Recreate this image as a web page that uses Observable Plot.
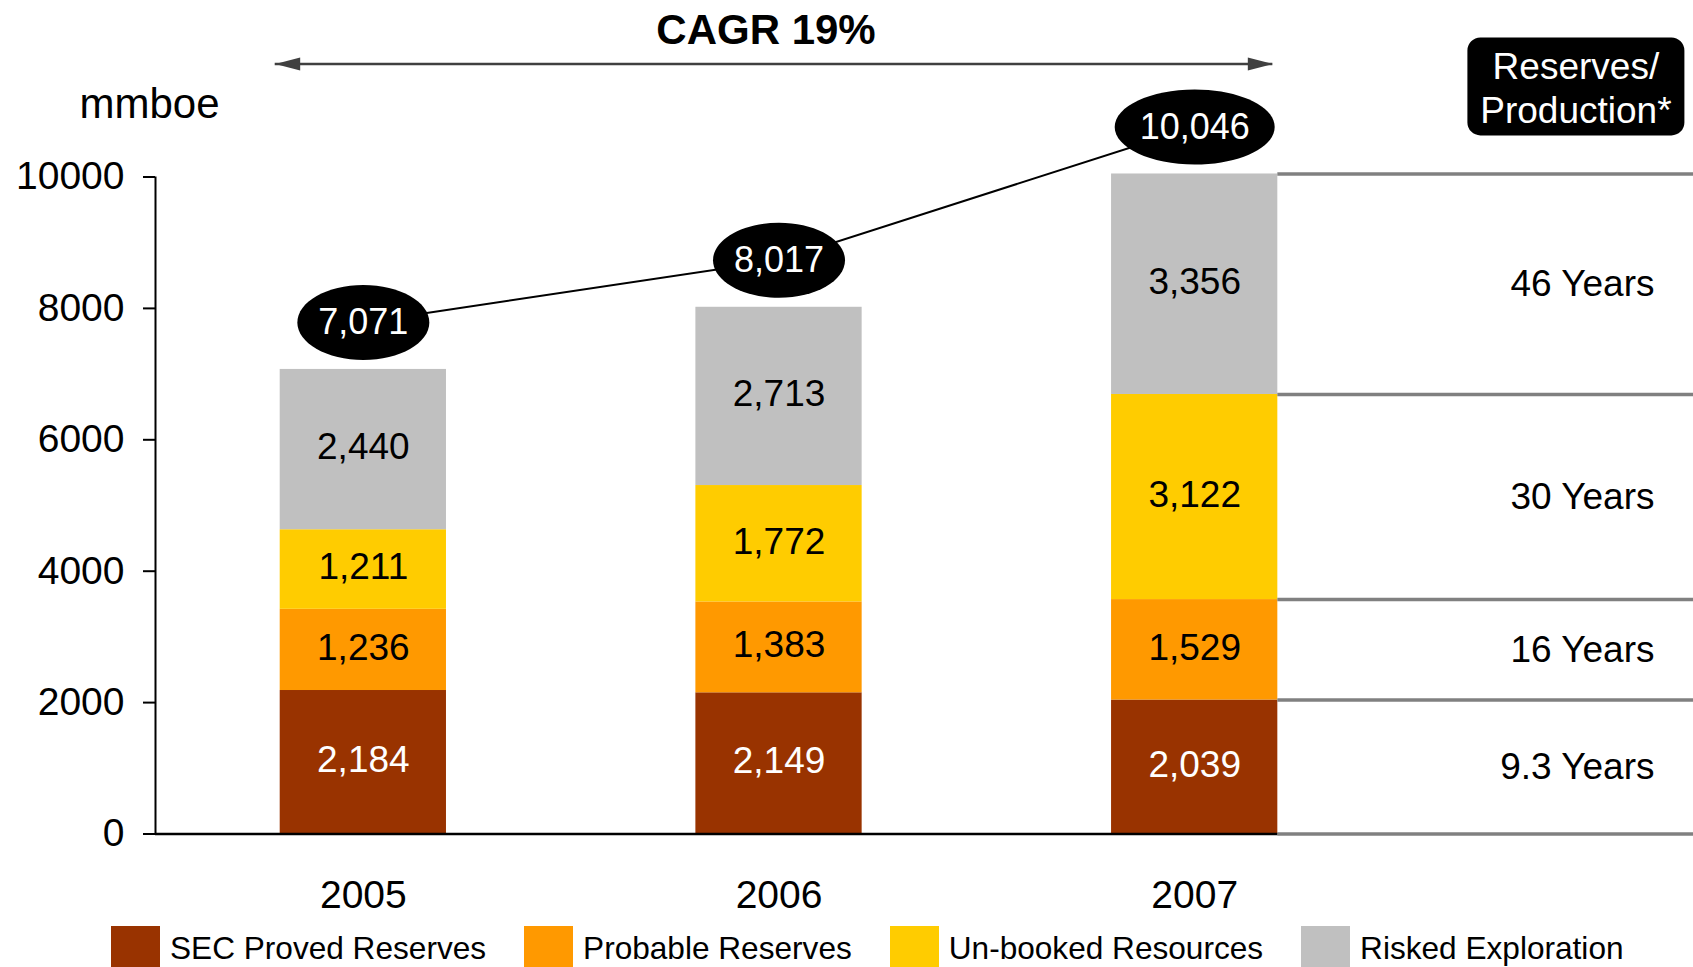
<!DOCTYPE html>
<html><head><meta charset="utf-8">
<script src="https://cdn.jsdelivr.net/npm/d3@7"></script>
<script src="https://cdn.jsdelivr.net/npm/@observablehq/plot@0.6"></script>
<style>
html,body{margin:0;padding:0;background:#fff;}
#wrap{position:relative;width:1693px;height:967px;overflow:hidden;font-family:"Liberation Sans",Arial,sans-serif;}
#wrap svg{display:block;}
#legend{position:absolute;left:111px;top:926px;display:flex;}
.item{display:flex;align-items:flex-start;margin-right:38px;}
.sw{width:49px;height:41px;}
.lab{font-size:31.6px;line-height:32px;margin-left:10px;margin-top:6px;white-space:nowrap;color:#000;}
</style></head><body><div id="wrap"></div>
<script>
// ---- data ----
const years = [2005, 2006, 2007];
const series = ["SEC Proved Reserves", "Probable Reserves", "Un-booked Resources", "Risked Exploration"];
const secProved = [2184, 2149, 2039];
const probable = [1236, 1383, 1529];
const unbooked = [1211, 1772, 3122];
const risked = [2440, 2713, 3356];
const totals = [7071, 8017, 10046];
const reservesToProduction = ["9.3 Years", "16 Years", "30 Years", "46 Years"];
const yTicks = [0, 2000, 4000, 6000, 8000, 10000];
const colors = ["#993300", "#FF9900", "#FFCC00", "#C0C0C0"];
const cagrLabel = "CAGR 19%";
const unitLabel = "mmboe";
const rpHeader = "Reserves/\nProduction*";

// ---- derived tables ----
const fmt = d3.format(",");
const half = 0.2; // half bar width in years
const xDomain = [2004.5, 2008.2];
const values = [secProved, probable, unbooked, risked];
const rows = [];
years.forEach((year, i) => {
  let base = 0;
  series.forEach((s, j) => {
    const v = values[j][i];
    rows.push({year, series: s, value: v, y1: base, y2: base + v});
    base += v;
  });
});
const lastYear = years[years.length - 1];
const rp = rows.filter(d => d.year === lastYear).map((d, i) => ({...d, label: reservesToProduction[i]}));
const boundaries = [0, ...rp.map(d => d.y2)];
const totalRows = years.map((year, i) => ({year, total: totals[i]}));
const yTop = yTicks[yTicks.length - 1];
const arrowEnds = [{x: years[0] - half, angle: 180}, {x: lastYear + half, angle: 0}];

// ---- custom symbols ----
function ellipse(rx, ry) {
  const k = 0.5523;
  return {draw(c) {
    c.moveTo(rx, 0);
    c.bezierCurveTo(rx, k * ry, k * rx, ry, 0, ry);
    c.bezierCurveTo(-k * rx, ry, -rx, k * ry, -rx, 0);
    c.bezierCurveTo(-rx, -k * ry, -k * rx, -ry, 0, -ry);
    c.bezierCurveTo(k * rx, -ry, rx, -k * ry, rx, 0);
    c.closePath();
  }};
}
const arrowHead = {draw(c) { c.moveTo(0, 0); c.lineTo(-25, -6.5); c.lineTo(-25, 6.5); c.closePath(); }};
function roundRect(w, h, r) {
  const x0 = -w / 2, y0 = -h / 2, x1 = w / 2, y1 = h / 2;
  return {draw(c) {
    c.moveTo(x0 + r, y0);
    c.lineTo(x1 - r, y0); c.arcTo(x1, y0, x1, y0 + r, r);
    c.lineTo(x1, y1 - r); c.arcTo(x1, y1, x1 - r, y1, r);
    c.lineTo(x0 + r, y1); c.arcTo(x0, y1, x0, y1 - r, r);
    c.lineTo(x0, y0 + r); c.arcTo(x0, y0, x0 + r, y0, r);
    c.closePath();
  }};
}

const dyTot = -47;
const chart = Plot.plot({
  width: 1693, height: 926,
  marginLeft: 155, marginRight: 0, marginTop: 176.5, marginBottom: 92.5,
  x: {domain: xDomain, axis: null},
  y: {domain: [0, yTop], axis: null},
  color: {domain: series, range: colors},
  style: {fontFamily: "'Liberation Sans', Arial, sans-serif", fontSize: "36px", color: "black", background: "white", overflow: "visible"},
  marks: [
    Plot.rect(rows, {x1: d => d.year - half, x2: d => d.year + half, y1: "y1", y2: "y2", fill: "series"}),
    Plot.text(rows, {filter: d => d.series === series[0], x: "year", y: d => (d.y1 + d.y2) / 2, text: d => fmt(d.value), fill: "white", fontSize: 37, dy: -2}),
    Plot.text(rows, {filter: d => d.series !== series[0], x: "year", y: d => (d.y1 + d.y2) / 2, text: d => fmt(d.value), fill: "black", fontSize: 37, dy: -2}),
    Plot.axisY({ticks: yTicks, tickFormat: d => String(d), tickSize: 12, tickPadding: 19, fontSize: 39, strokeWidth: 2, label: null}),
    Plot.ruleX([xDomain[0]], {y1: 0, y2: yTop, stroke: "black", strokeWidth: 2}),
    Plot.ruleY(boundaries, {x1: lastYear + half, x2: xDomain[1], stroke: "#808080", strokeWidth: 3.5}),
    Plot.ruleY([0], {x1: xDomain[0], x2: lastYear + half, stroke: "black", strokeWidth: 2.5}),
    Plot.text(rp, {y: d => (d.y1 + d.y2) / 2, text: "label", frameAnchor: "right", lineAnchor: "middle", textAnchor: "end", dx: -39, fontSize: 37}),
    Plot.axisX({ticks: years, tickFormat: d => String(d), tickSize: 0, tickPadding: 46, fontSize: 39, label: null}),
    Plot.line(totalRows, {x: "year", y: "total", dy: dyTot, stroke: "black", strokeWidth: 2}),
    Plot.dot(totalRows, {filter: d => fmt(d.total).length < 6, x: "year", y: "total", dy: dyTot, r: 10, symbol: ellipse(66, 37.5), fill: "black", stroke: "none"}),
    Plot.dot(totalRows, {filter: d => fmt(d.total).length >= 6, x: "year", y: "total", dy: dyTot, r: 10, symbol: ellipse(80, 37.5), fill: "black", stroke: "none"}),
    Plot.text(totalRows, {x: "year", y: "total", dy: dyTot, text: d => fmt(d.total), fill: "white", fontSize: 36}),
    Plot.ruleY([yTop], {x1: years[0] - half, x2: lastYear + half, dy: -113, dx: -5, stroke: "#404040", strokeWidth: 2.5}),
    Plot.dot(arrowEnds, {x: "x", y: () => yTop, rotate: "angle", dy: -113, dx: -5, r: 10, symbol: arrowHead, fill: "#404040", stroke: "none"}),
    Plot.text([cagrLabel], {x: () => years[1], text: d => d, frameAnchor: "top", lineAnchor: "middle", dy: -146.5, dx: -13, fontWeight: "bold", fontSize: 42}),
    Plot.text([unitLabel], {frameAnchor: "top-left", lineAnchor: "middle", text: d => d, dx: -6, dy: -72, fontSize: 42, textAnchor: "middle"}),
    Plot.dot([rpHeader], {frameAnchor: "top-right", dx: -117.6, dy: -90.6, r: 10, symbol: roundRect(217, 98, 13), fill: "black", stroke: "none"}),
    Plot.text([rpHeader], {frameAnchor: "top-right", lineAnchor: "middle", text: d => d, dx: -117.6, dy: -89.6, fill: "white", fontSize: 37, lineHeight: 1.19, textAnchor: "middle"})
  ]
});
const wrap = document.getElementById("wrap");
wrap.appendChild(chart);
const legend = document.createElement("div");
legend.id = "legend";
series.forEach((s, i) => {
  const item = document.createElement("div");
  item.className = "item";
  const sw = document.createElement("div");
  sw.className = "sw";
  sw.style.background = colors[i];
  const lab = document.createElement("span");
  lab.className = "lab";
  lab.textContent = s;
  item.appendChild(sw); item.appendChild(lab);
  legend.appendChild(item);
});
wrap.appendChild(legend);
</script></body></html>
